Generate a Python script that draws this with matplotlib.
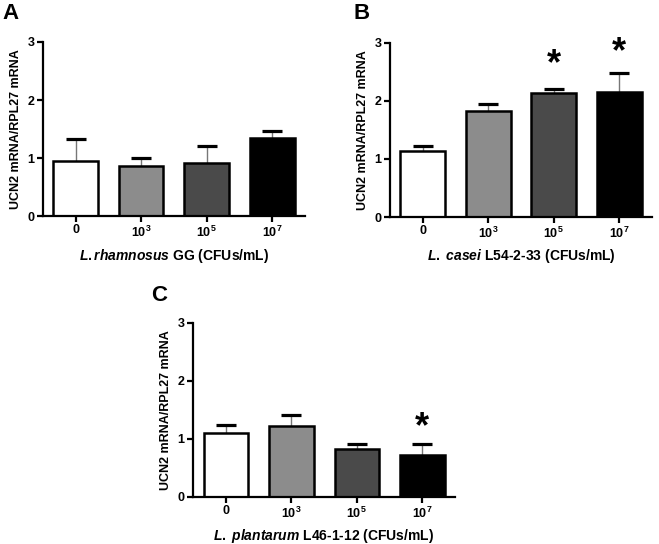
import numpy as np
import matplotlib
matplotlib.use("Agg")
import matplotlib.pyplot as plt

plt.rcParams['font.family'] = ['Liberation Sans', 'DejaVu Sans']
plt.rcParams['font.weight'] = 'bold'
plt.rcParams['mathtext.fontset'] = 'custom'
plt.rcParams['mathtext.rm'] = 'Liberation Sans:bold'
plt.rcParams['mathtext.bf'] = 'Liberation Sans:bold'
plt.rcParams['mathtext.it'] = 'Liberation Sans:italic:bold'

doses = ['0', r'$10^{3}$', r'$10^{5}$', r'$10^{7}$']
colors = ['white', '#8c8c8c', '#4a4a4a', 'black']

# panel A: L. rhamnosus GG
a_mean = [0.94, 0.86, 0.91, 1.34]
a_err = [0.39, 0.14, 0.29, 0.12]
# panel B: L. casei L54-2-33
b_mean = [1.14, 1.83, 2.14, 2.16]
b_err = [0.08, 0.11, 0.07, 0.32]
b_star = [None, None, 2.62, 2.83]
# panel C: L. plantarum L46-1-12
c_mean = [1.11, 1.22, 0.83, 0.73]
c_err = [0.13, 0.19, 0.09, 0.18]
c_star = [None, None, None, 1.19]

ylabel = 'UCN2 mRNA/RPL27 mRNA'

fig = plt.figure(figsize=(6.59, 5.44), dpi=100)


def panel(rect, mean, err, xlabel, letter, letter_pos, stars=None):
    ax = fig.add_axes(rect)
    x = np.arange(len(mean))
    mean = np.array(mean)
    err = np.array(err)
    ax.vlines(x, mean, mean + err, color='#777777', lw=1.0, zorder=1)
    ax.bar(x, mean, width=0.68, color=colors, edgecolor='black', lw=1.8, zorder=2)
    ax.plot(x, mean + err, ls='none', marker='_', ms=14, mew=2.3, color='black', zorder=3)
    if stars:
        for xi, s in zip(x, stars):
            if s is not None:
                ax.text(xi, s, '*', ha='center', va='center', fontsize=26, fontweight='bold')
    ax.set_xlim(-0.5, 3.5)
    ax.set_ylim(0, 3)
    ax.set_yticks([0, 1, 2, 3])
    ax.set_xticks(x)
    ax.set_xticklabels(doses)
    for s in ['top', 'right']:
        ax.spines[s].set_visible(False)
    for s in ['left', 'bottom']:
        ax.spines[s].set_linewidth(1.6)
    ax.tick_params(axis='both', width=1.6, length=4, labelsize=9, pad=2)
    ax.set_ylabel(ylabel, fontsize=9, fontweight='bold', labelpad=4)
    ax.set_xlabel(xlabel, fontsize=10, fontweight='bold', labelpad=5)
    fig.text(letter_pos[0], letter_pos[1], letter, fontsize=16, fontweight='bold', ha='left', va='top')
    return ax


panel([0.0652, 0.6029, 0.3976, 0.3199], a_mean, a_err,
      r'$\mathit{L.rhamnosus}$ GG (CFUs/mL)', 'A', (0.004, 0.995))
panel([0.5918, 0.6011, 0.3976, 0.3199], b_mean, b_err,
      r'$\mathit{L.}$ $\mathit{casei}$ L54-2-33 (CFUs/mL)', 'B', (0.537, 0.995), b_star)
panel([0.2929, 0.0864, 0.3976, 0.3199], c_mean, c_err,
      r'$\mathit{L.}$ $\mathit{plantarum}$ L46-1-12 (CFUs/mL)', 'C', (0.230, 0.476), c_star)

fig.savefig('out.png', dpi=100)
